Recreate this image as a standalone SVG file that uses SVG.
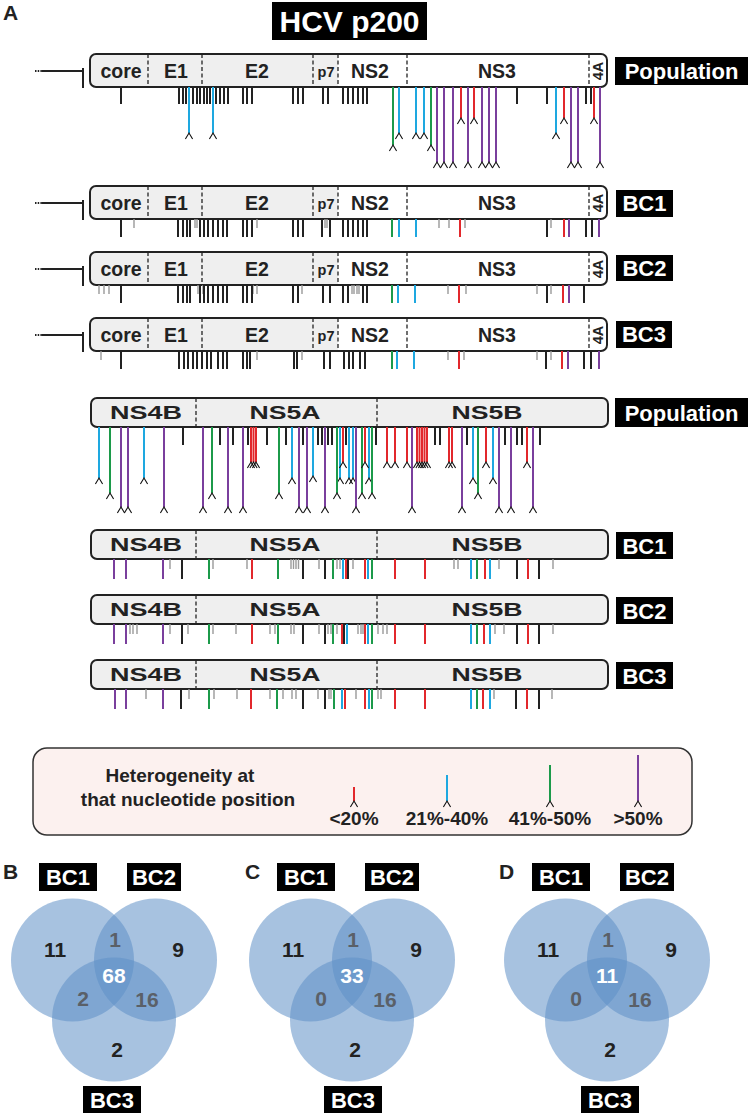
<svg xmlns="http://www.w3.org/2000/svg" width="750" height="1116" viewBox="0 0 750 1116">
<style>
text{font-family:"Liberation Sans",Arial,sans-serif;font-weight:bold}
.g{font-size:19.5px;fill:#222;text-anchor:middle}
.gs{font-size:14.5px;fill:#222;text-anchor:middle}
.gb{font-size:19px;fill:#222;text-anchor:middle}
.lab{fill:#000}
.lt{font-size:22px;fill:#fff;text-anchor:middle}
.box{fill:none;stroke:#222;stroke-width:2}
.dv{stroke:#222;stroke-width:1.3;stroke-dasharray:4,2.5;fill:none}
.lead{stroke:#222;stroke-width:2;fill:none}
.k{stroke:#222;stroke-width:2;fill:none}
.y{stroke:#9a9a9a;stroke-width:1.4;fill:none}
.r{stroke:#e2282c;stroke-width:2;fill:none}
.b{stroke:#1ea8e0;stroke-width:2;fill:none}
.n{stroke:#1c9a4a;stroke-width:2;fill:none}
.p{stroke:#7a3f9d;stroke-width:2;fill:none}
.ar{marker-end:url(#ah)}
.vc{fill:#5f8fc6;fill-opacity:0.55}
.vn{font-size:21px;fill:#222;text-anchor:middle}
.vg{font-size:21px;fill:#5a6068;text-anchor:middle}
.vw{font-size:21px;fill:#fff;text-anchor:middle}
.pl{font-size:21px;fill:#222}
.leg{font-size:19px;fill:#222;text-anchor:middle}
</style>
<defs>
<marker id="ah" markerUnits="userSpaceOnUse" markerWidth="10" markerHeight="10" refX="0" refY="0" orient="auto" overflow="visible" viewBox="-5 -5 10 10">
<path d="M6,-3.6L0,0L6,3.6" fill="none" stroke="#111" stroke-width="1.1"/>
</marker>
</defs>
<rect width="750" height="1116" fill="#fff"/>
<text class="pl" x="3" y="20">A</text>
<g id="title"><rect x="272" y="2" width="155" height="38" fill="#000"/><text x="349.5" y="32" font-size="30" fill="#fff" text-anchor="middle">HCV p200</text></g>

<!-- TOP ROWS -->
<g id="row-top-pop">
<path class="lead" d="M42,71H83M83,68V88"/><path d="M35,71H42" stroke="#222" stroke-width="2" stroke-dasharray="1.5,1.2"/>
<rect x="90" y="54" width="517" height="33" rx="6" fill="#fff"/>
<path fill="#efefef" d="M338,54H96A6,6 0 0 0 90,60V81A6,6 0 0 0 96,87H338Z"/>
<rect class="box" x="90" y="54" width="517" height="33" rx="6"/>
<path class="dv" d="M148,54V87M202,54V87M313,54V87M338,54V87M407,54V87M589,54V87"/>
<text class="g" x="121" y="78">core</text><text class="g" x="176" y="78">E1</text><text class="g" x="257" y="78">E2</text><text class="gs" x="326" y="77">p7</text><text class="g" x="370" y="78">NS2</text><text class="g" x="497" y="78">NS3</text><text class="gs" transform="translate(603,71) rotate(-90)" x="0" y="0">4A</text>
</g>
<g id="label-top-pop"><rect class="lab" x="615" y="57" width="133" height="28"/><text class="lt" x="681.5" y="79" font-size="23">Population</text></g>

<g id="row-top-bc1">
<path class="lead" d="M42,203H83M83,200V220"/><path d="M35,203H42" stroke="#222" stroke-width="2" stroke-dasharray="1.5,1.2"/>
<rect x="90" y="186" width="517" height="33" rx="6" fill="#fff"/>
<path fill="#efefef" d="M338,186H96A6,6 0 0 0 90,192V213A6,6 0 0 0 96,219H338Z"/>
<rect class="box" x="90" y="186" width="517" height="33" rx="6"/>
<path class="dv" d="M148,186V219M202,186V219M313,186V219M338,186V219M407,186V219M589,186V219"/>
<text class="g" x="121" y="210">core</text><text class="g" x="176" y="210">E1</text><text class="g" x="257" y="210">E2</text><text class="gs" x="326" y="209">p7</text><text class="g" x="370" y="210">NS2</text><text class="g" x="497" y="210">NS3</text><text class="gs" transform="translate(603,203) rotate(-90)" x="0" y="0">4A</text>
</g>
<g id="label-top-bc1"><rect class="lab" x="616" y="190" width="57" height="27"/><text class="lt" x="644.5" y="211">BC1</text></g>

<g id="row-top-bc2">
<path class="lead" d="M42,269H83M83,266V286"/><path d="M35,269H42" stroke="#222" stroke-width="2" stroke-dasharray="1.5,1.2"/>
<rect x="90" y="252" width="517" height="33" rx="6" fill="#fff"/>
<path fill="#efefef" d="M338,252H96A6,6 0 0 0 90,258V279A6,6 0 0 0 96,285H338Z"/>
<rect class="box" x="90" y="252" width="517" height="33" rx="6"/>
<path class="dv" d="M148,252V285M202,252V285M313,252V285M338,252V285M407,252V285M589,252V285"/>
<text class="g" x="121" y="276">core</text><text class="g" x="176" y="276">E1</text><text class="g" x="257" y="276">E2</text><text class="gs" x="326" y="275">p7</text><text class="g" x="370" y="276">NS2</text><text class="g" x="497" y="276">NS3</text><text class="gs" transform="translate(603,269) rotate(-90)" x="0" y="0">4A</text>
</g>
<g id="label-top-bc2"><rect class="lab" x="616" y="255" width="57" height="26"/><text class="lt" x="644.5" y="276">BC2</text></g>

<g id="row-top-bc3">
<path class="lead" d="M42,335H83M83,332V352"/><path d="M35,335H42" stroke="#222" stroke-width="2" stroke-dasharray="1.5,1.2"/>
<rect x="90" y="318" width="517" height="33" rx="6" fill="#fff"/>
<path fill="#efefef" d="M338,318H96A6,6 0 0 0 90,324V345A6,6 0 0 0 96,351H338Z"/>
<rect class="box" x="90" y="318" width="517" height="33" rx="6"/>
<path class="dv" d="M148,318V351M202,318V351M313,318V351M338,318V351M407,318V351M589,318V351"/>
<text class="g" x="121" y="342">core</text><text class="g" x="176" y="342">E1</text><text class="g" x="257" y="342">E2</text><text class="gs" x="326" y="341">p7</text><text class="g" x="370" y="342">NS2</text><text class="g" x="497" y="342">NS3</text><text class="gs" transform="translate(603,335) rotate(-90)" x="0" y="0">4A</text>
</g>
<g id="label-top-bc3"><rect class="lab" x="616" y="321" width="56" height="27"/><text class="lt" x="644" y="342">BC3</text></g>

<!-- BOTTOM ROWS -->
<g id="row-bot-pop">
<rect x="91" y="398" width="517" height="29" rx="6" fill="#efefef"/><rect class="box" x="91" y="398" width="517" height="29" rx="6"/>
<path class="dv" d="M196,398V427M377,398V427"/>
<text class="gb" x="146" y="419" textLength="72" lengthAdjust="spacingAndGlyphs">NS4B</text><text class="gb" x="285" y="419" textLength="71" lengthAdjust="spacingAndGlyphs">NS5A</text><text class="gb" x="487" y="419" textLength="71" lengthAdjust="spacingAndGlyphs">NS5B</text>
</g>
<g id="label-bot-pop"><rect class="lab" x="615" y="398" width="133" height="29"/><text class="lt" x="681.5" y="421" font-size="23">Population</text></g>

<g id="row-bot-bc1">
<rect x="91" y="530" width="517" height="29" rx="6" fill="#efefef"/><rect class="box" x="91" y="530" width="517" height="29" rx="6"/>
<path class="dv" d="M196,530V559M377,530V559"/>
<text class="gb" x="146" y="551" textLength="72" lengthAdjust="spacingAndGlyphs">NS4B</text><text class="gb" x="285" y="551" textLength="71" lengthAdjust="spacingAndGlyphs">NS5A</text><text class="gb" x="487" y="551" textLength="71" lengthAdjust="spacingAndGlyphs">NS5B</text>
</g>
<g id="label-bot-bc1"><rect class="lab" x="616" y="532" width="57" height="27"/><text class="lt" x="644.5" y="554">BC1</text></g>

<g id="row-bot-bc2">
<rect x="91" y="595" width="517" height="29" rx="6" fill="#efefef"/><rect class="box" x="91" y="595" width="517" height="29" rx="6"/>
<path class="dv" d="M196,595V624M377,595V624"/>
<text class="gb" x="146" y="616" textLength="72" lengthAdjust="spacingAndGlyphs">NS4B</text><text class="gb" x="285" y="616" textLength="71" lengthAdjust="spacingAndGlyphs">NS5A</text><text class="gb" x="487" y="616" textLength="71" lengthAdjust="spacingAndGlyphs">NS5B</text>
</g>
<g id="label-bot-bc2"><rect class="lab" x="616" y="597" width="57" height="27"/><text class="lt" x="644.5" y="619">BC2</text></g>

<g id="row-bot-bc3">
<rect x="91" y="660" width="517" height="29" rx="6" fill="#efefef"/><rect class="box" x="91" y="660" width="517" height="29" rx="6"/>
<path class="dv" d="M196,660V689M377,660V689"/>
<text class="gb" x="146" y="681" textLength="72" lengthAdjust="spacingAndGlyphs">NS4B</text><text class="gb" x="285" y="681" textLength="71" lengthAdjust="spacingAndGlyphs">NS5A</text><text class="gb" x="487" y="681" textLength="71" lengthAdjust="spacingAndGlyphs">NS5B</text>
</g>
<g id="label-bot-bc3"><rect class="lab" x="616" y="662" width="57" height="27"/><text class="lt" x="644.5" y="684">BC3</text></g>

<g id="connectors">
<!-- top population -->
<path class="k" d="M121,87V104M179,87V104M183,87V104M186,87V104M193,87V104M197,87V104M200,87V104M204,87V104M207,87V104M210,87V104M216,87V104M220,87V104M224,87V104M228,87V104M243,87V104M247,87V104M252,87V104M293,87V104M298,87V104M303,87V104M323,87V104M328,87V104M343,87V104M348,87V104M353,87V104M358,87V104M363,87V104M367,87V104M517,87V104M547,87V104M586,87V104M591,87V104"/>
<path class="b ar" d="M189,87V133"/><path class="b ar" d="M213,87V133"/><path class="b ar" d="M399,87V133"/><path class="b ar" d="M416,87V133"/><path class="b ar" d="M424,87V133"/><path class="b ar" d="M556,87V133"/>
<path class="n ar" d="M393,87V145"/><path class="n ar" d="M431,87V145"/>
<path class="r ar" d="M461,87V118"/><path class="r ar" d="M474,87V118"/><path class="r ar" d="M564,87V118"/><path class="r ar" d="M594,87V118"/>
<path class="p ar" d="M437,87V162"/><path class="p ar" d="M444,87V162"/><path class="p ar" d="M453,87V162"/><path class="p ar" d="M468,87V162"/><path class="p ar" d="M482,87V162"/><path class="p ar" d="M489,87V162"/><path class="p ar" d="M496,87V162"/><path class="p ar" d="M571,87V162"/><path class="p ar" d="M578,87V162"/><path class="p ar" d="M600,87V162"/>
<!-- top BC1 -->
<path class="y" d="M134,219V228M195,219V228M197,219V228M257,219V228M325,219V228M327,219V228M439,219V228M449,219V228M465,219V228M551,219V228"/>
<path class="k" d="M121,219V237M178,219V237M183,219V237M187,219V237M190,219V237M200,219V237M204,219V237M208,219V237M213,219V237M218,219V237M223,219V237M227,219V237M243,219V237M247,219V237M252,219V237M293,219V237M298,219V237M303,219V237M322,219V237M330,219V237M343,219V237M348,219V237M353,219V237M358,219V237M363,219V237M367,219V237M547,219V237M586,219V237M592,219V237"/>
<path class="n" d="M392,219V237"/><path class="b" d="M399,219V237M416,219V237"/><path class="r" d="M460,219V237M564,219V237"/><path class="p" d="M569,219V237M599,219V237"/>
<!-- top BC2 -->
<path class="y" d="M99,285V294M104,285V294M109,285V294M198,285V294M203,285V294M253,285V294M257,285V294M302,285V294M352,285V294M354,285V294M357,285V294M359,285V294M448,285V294M466,285V294M537,285V294M551,285V294"/>
<path class="k" d="M121,285V303M178,285V303M183,285V303M187,285V303M190,285V303M200,285V303M204,285V303M208,285V303M213,285V303M218,285V303M223,285V303M227,285V303M243,285V303M247,285V303M252,285V303M293,285V303M298,285V303M323,285V303M330,285V303M343,285V303M348,285V303M363,285V303M367,285V303M547,285V303M584,285V303"/>
<path class="n" d="M392,285V303"/><path class="b" d="M398,285V303M415,285V303"/><path class="r" d="M459,285V303M563,285V303"/><path class="p" d="M569,285V303"/>
<!-- top BC3 -->
<path class="y" d="M101,351V360M257,351V360M302,351V360M448,351V360M464,351V360M537,351V360M551,351V360"/>
<path class="k" d="M121,351V369M179,351V369M184,351V369M188,351V369M193,351V369M197,351V369M202,351V369M207,351V369M211,351V369M218,351V369M223,351V369M227,351V369M243,351V369M247,351V369M250,351V369M294,351V369M297,351V369M324,351V369M330,351V369M344,351V369M349,351V369M353,351V369M360,351V369M365,351V369M546,351V369M584,351V369M591,351V369"/>
<path class="n" d="M392,351V369"/><path class="b" d="M397,351V369M414,351V369"/><path class="r" d="M459,351V369M562,351V369"/><path class="p" d="M568,351V369M599,351V369"/>
<!-- bottom population -->
<path class="k" d="M183,427V445M220,427V445M233,427V445M248,427V445M267,427V445M286,427V445M303,427V445M318,427V445M322,427V445M328,427V445M332,427V445M346,427V445M376,427V445M435,427V445M440,427V445M467,427V445M505,427V445M517,427V445M522,427V445M540,427V445"/>
<path class="b ar" d="M99,427V478"/><path class="b ar" d="M144,427V478"/><path class="b ar" d="M292,427V478"/><path class="b ar" d="M313,427V476"/><path class="b ar" d="M340,427V478"/><path class="b ar" d="M349,427V478"/><path class="b ar" d="M353,427V478"/><path class="b ar" d="M369,427V478"/><path class="b ar" d="M473,427V478"/><path class="b ar" d="M493,427V478"/>
<path class="n ar" d="M110,427V493"/><path class="n ar" d="M212,427V493"/><path class="n ar" d="M279,427V493"/><path class="n ar" d="M337,427V493"/><path class="n ar" d="M362,427V493"/><path class="n ar" d="M372,427V493"/><path class="n ar" d="M478,427V493"/>
<path class="p ar" d="M121,427V507"/><path class="p ar" d="M128,427V507"/><path class="p ar" d="M164,427V507"/><path class="p ar" d="M203,427V507"/><path class="p ar" d="M228,427V507"/><path class="p ar" d="M243,427V507"/><path class="p ar" d="M299,427V507"/><path class="p ar" d="M307,427V507"/><path class="p ar" d="M325,427V507"/><path class="p ar" d="M356,427V507"/><path class="p ar" d="M412,427V507"/><path class="p ar" d="M462,427V507"/><path class="p ar" d="M499,427V507"/><path class="p ar" d="M511,427V507"/><path class="p ar" d="M533,427V507"/>
<path class="r ar" d="M251,427V462"/><path class="r ar" d="M253.5,427V462"/><path class="r ar" d="M256,427V462"/><path class="r ar" d="M343,427V462"/><path class="r ar" d="M365,427V462"/><path class="r ar" d="M387,427V462"/><path class="r ar" d="M395,427V462"/><path class="r ar" d="M407,427V462"/><path class="r ar" d="M417,427V462"/><path class="r ar" d="M419.5,427V462"/><path class="r ar" d="M422,427V462"/><path class="r ar" d="M424.5,427V462"/><path class="r ar" d="M427,427V462"/><path class="r ar" d="M449,427V462"/><path class="r ar" d="M452,427V462"/><path class="r ar" d="M486,427V462"/><path class="r ar" d="M527,427V462"/>
<!-- bottom BC1 -->
<path class="y" d="M170,559V569M213,559V569M247,559V569M291,559V569M293.5,559V569M296,559V569M298.5,559V569M319,559V569M337,559V569M340,559V569M353,559V569M454,559V569M458,559V569M499,559V569M553,559V569"/>
<path class="k" d="M182,559V579M303,559V579M325,559V579M348,559V579M517,559V579M539,559V579"/>
<path class="p" d="M114,559V579M126,559V579M163,559V579"/>
<path class="n" d="M209,559V579M278,559V579M333,559V579M372,559V579M477,559V579"/>
<path class="r" d="M252,559V579M346,559V579M365,559V579M395,559V579M425,559V579M485,559V579M528,559V579"/>
<path class="b" d="M343,559V579M368,559V579M471,559V579M490,559V579"/>
<!-- bottom BC2 -->
<path class="y" d="M130,624V634M133,624V634M137,624V634M170,624V634M188,624V634M213,624V634M236,624V634M270,624V634M275,624V634M291,624V634M294,624V634M319,624V634M328,624V634M331,624V634M337,624V634M358,624V634M361,624V634M363,624V634M378,624V634M383,624V634M387,624V634M495,624V634M504,624V634M553,624V634"/>
<path class="k" d="M182,624V644M303,624V644M325,624V644M344,624V644M517,624V644M539,624V644"/>
<path class="p" d="M114,624V644M126,624V644M163,624V644"/>
<path class="n" d="M209,624V644M278,624V644M333,624V644M372,624V644M477,624V644"/>
<path class="r" d="M252,624V644M342,624V644M365,624V644M395,624V644M425,624V644M484,624V644M528,624V644"/>
<path class="b" d="M347,624V644M368,624V644M471,624V644M490,624V644"/>
<!-- bottom BC3 -->
<path class="y" d="M146,689V699M189,689V699M214,689V699M237,689V699M270,689V699M283,689V699M292,689V699M296,689V699M318,689V699M329,689V699M331,689V699M356,689V699M378,689V699M381,689V699M494,689V699M552,689V699"/>
<path class="k" d="M181,689V709M303,689V709M325,689V709M516,689V709M539,689V709"/>
<path class="p" d="M115,689V709M126,689V709M163,689V709"/>
<path class="n" d="M209,689V709M277,689V709M334,689V709M372,689V709M477,689V709"/>
<path class="r" d="M251,689V709M345,689V709M365,689V709M395,689V709M425,689V709M483,689V709M527,689V709"/>
<path class="b" d="M342,689V709M369,689V709M471,689V709M490,689V709"/>
</g>

<g id="legend">
<rect x="33" y="748" width="659" height="87" rx="14" fill="#fcf1ef" stroke="#333" stroke-width="1.5"/>
<text class="leg" x="180" y="782">Heterogeneity at</text>
<text class="leg" x="188" y="806">that nucleotide position</text>
<path class="r ar" d="M354,787V801"/><path class="b ar" d="M447,775V801"/><path class="n ar" d="M550,765V801"/><path class="p ar" d="M638,755V801"/>
<text class="leg" x="354" y="825">&lt;20%</text><text class="leg" x="447" y="825">21%-40%</text><text class="leg" x="550" y="825">41%-50%</text><text class="leg" x="638" y="825">&gt;50%</text>
</g>

<g id="venn-b">
<text class="pl" x="3" y="879">B</text>
<rect class="lab" x="39" y="863" width="58" height="28"/><text class="lt" x="68" y="885">BC1</text>
<rect class="lab" x="127" y="863" width="54" height="28"/><text class="lt" x="154" y="885">BC2</text>
<circle class="vc" cx="72.5" cy="960" r="61.5"/><circle class="vc" cx="155.5" cy="960" r="61.5"/><circle class="vc" cx="114" cy="1019.5" r="62"/>
<text class="vn" x="55" y="957">11</text><text class="vg" x="115" y="947">1</text><text class="vn" x="178" y="957">9</text><text class="vw" x="114" y="983">68</text><text class="vg" x="83" y="1006">2</text><text class="vg" x="147" y="1007">16</text><text class="vn" x="117" y="1057">2</text>
<rect class="lab" x="83" y="1086" width="58" height="27"/><text class="lt" x="112" y="1108">BC3</text>
</g>
<g id="venn-c">
<text class="pl" x="245" y="879">C</text>
<rect class="lab" x="277" y="863" width="58" height="28"/><text class="lt" x="306" y="885">BC1</text>
<rect class="lab" x="365" y="863" width="54" height="28"/><text class="lt" x="392" y="885">BC2</text>
<circle class="vc" cx="310.5" cy="960" r="61.5"/><circle class="vc" cx="393.5" cy="960" r="61.5"/><circle class="vc" cx="352" cy="1019.5" r="62"/>
<text class="vn" x="293" y="957">11</text><text class="vg" x="353" y="947">1</text><text class="vn" x="416" y="957">9</text><text class="vw" x="352" y="983">33</text><text class="vg" x="321" y="1006">0</text><text class="vg" x="385" y="1007">16</text><text class="vn" x="355" y="1057">2</text>
<rect class="lab" x="324" y="1086" width="58" height="27"/><text class="lt" x="353" y="1108">BC3</text>
</g>
<g id="venn-d">
<text class="pl" x="499" y="879">D</text>
<rect class="lab" x="532" y="863" width="58" height="28"/><text class="lt" x="561" y="885">BC1</text>
<rect class="lab" x="620" y="863" width="54" height="28"/><text class="lt" x="647" y="885">BC2</text>
<circle class="vc" cx="565.5" cy="960" r="61.5"/><circle class="vc" cx="648.5" cy="960" r="61.5"/><circle class="vc" cx="607" cy="1019.5" r="62"/>
<text class="vn" x="548" y="957">11</text><text class="vg" x="608" y="947">1</text><text class="vn" x="671" y="957">9</text><text class="vw" x="607" y="983">11</text><text class="vg" x="576" y="1006">0</text><text class="vg" x="640" y="1007">16</text><text class="vn" x="610" y="1057">2</text>
<rect class="lab" x="581" y="1086" width="58" height="27"/><text class="lt" x="610" y="1108">BC3</text>
</g>
</svg>
